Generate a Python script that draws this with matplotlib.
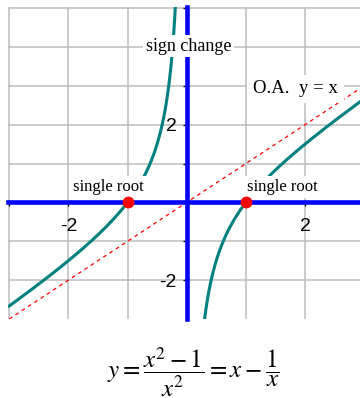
import numpy as np
import matplotlib.pyplot as plt

# function y = x - 1/x, plotted on a square grid
x_min, x_max = -3.0, 2.93
y_min, y_max = -3.0, 5.0
roots_x = [-1, 1]
roots_y = [0, 0]
xtick_pos = [-3, -2, -1, 0, 1, 2]
xtick_lab = ['', '-2', '', '', '', '2']
ytick_pos = [-2, -1, 0, 1, 2, 3, 4, 5]
ytick_lab = ['-2', '', '', '', '2', '', '', '']


def f(x):
    return x - 1.0 / x


fig = plt.figure(figsize=(3.6, 3.98), dpi=100)
ax = fig.add_axes([8 / 360, 79 / 398, 352 / 360, 312 / 398])
ax.set_xlim(x_min - 0.02, x_max)
ax.set_ylim(y_min, y_max + 0.03)

# grid
ax.set_xticks(xtick_pos)
ax.set_xticklabels(xtick_lab)
ax.set_yticks(ytick_pos)
ax.set_yticklabels(ytick_lab)
ax.grid(True, color='#bdbdbd', lw=1.1, zorder=0)

# axes through the origin
for side in ['top', 'right']:
    ax.spines[side].set_visible(False)
for side in ['left', 'bottom']:
    ax.spines[side].set_position(('data', 0))
    ax.spines[side].set_color('#0000ff')
    ax.spines[side].set_linewidth(3.3)
ax.tick_params(direction='out', length=3, width=1, color='black',
               labelsize=14, labelfontfamily='Liberation Sans')
ax.tick_params(axis='x', pad=8)
ax.tick_params(axis='y', pad=4)

# oblique asymptote
xa = np.linspace(x_min, x_max, 50)
ax.plot(xa, xa, color='red', lw=0.9, ls=(0, (3, 3)), zorder=2)

# two branches
xl = np.linspace(x_min, -0.185, 400)
xr = np.linspace(0.3, x_max, 400)
ax.plot(xl, f(xl), color='#008080', lw=2.2, zorder=2)
ax.plot(xr, f(xr), color='#008080', lw=2.2, zorder=2)

ax.plot(roots_x, roots_y, 'o', color='red', ms=7.5, zorder=6, clip_on=False)

box = dict(facecolor='white', edgecolor='none', pad=2)
serif = 'Liberation Serif'
ax.text(0.03, 4.02, 'sign change', family=serif, fontsize=13,
        ha='center', va='center', bbox=box, zorder=5)
ax.text(1.84, 2.92, 'O.A.  y = x', family=serif, fontsize=13.5,
        ha='center', va='center', bbox=dict(facecolor='white', edgecolor='none', pad=4), zorder=5)
ax.text(-1.32, 0.4, 'single root', family=serif, fontsize=12,
        ha='center', va='center', bbox=box, zorder=5)
ax.text(1.61, 0.4, 'single root', family=serif, fontsize=12,
        ha='center', va='center', bbox=box, zorder=5)

plt.rcParams['mathtext.fontset'] = 'stix'
fig.text(193 / 360, 1 - 372 / 398, r'$y=\dfrac{x^2-1}{x^2}=x-\dfrac{1}{x}$',
         fontsize=18, ha='center', va='center')

fig.savefig('out.png', dpi=100)
